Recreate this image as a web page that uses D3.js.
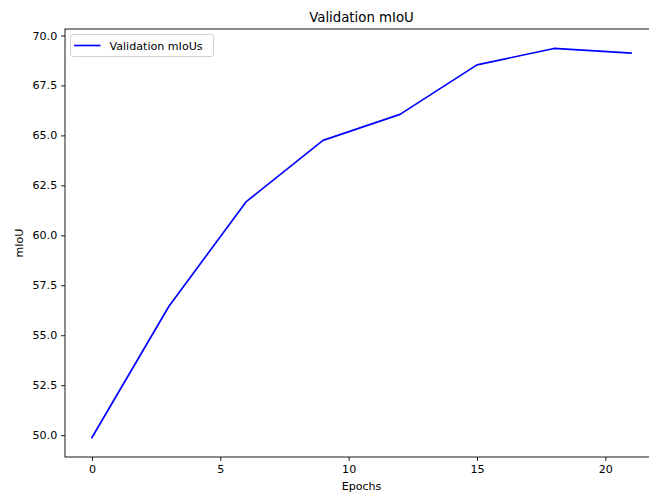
<!DOCTYPE html>
<html>
<head>
<meta charset="utf-8">
<script src="https://cdn.jsdelivr.net/npm/d3@7"></script>
<style>
  html, body { margin: 0; padding: 0; background: #ffffff; }
  svg { display: block; font-family: "DejaVu Sans", sans-serif; }
</style>
</head>
<body>
<svg id="chart" width="649" height="501"></svg>
<script>
// Validation mIoU recorded every 3 epochs
const epochs = [0, 3, 6, 9, 12, 15, 18, 21];
const mious = [49.88, 56.45, 61.67, 64.75, 66.05, 68.53, 69.35, 69.12];
const xTicks = [0, 5, 10, 15, 20];
const yTicks = [50.0, 52.5, 55.0, 57.5, 60.0, 62.5, 65.0, 67.5, 70.0];
const seriesName = "Validation mIoUs";
const titleText = "Validation mIoU";
const xLabel = "Epochs";
const yLabel = "mIoU";

const svg = d3.select("#chart");
const plot = { left: 65, right: 658, top: 29, bottom: 457 };
const fs = 11.1;

// 5% margins around the data range, as in the usual plotting defaults
const xMin = d3.min(epochs), xMax = d3.max(epochs);
const yMin = d3.min(mious), yMax = d3.max(mious);
const xPad = (xMax - xMin) * 0.05, yPad = (yMax - yMin) * 0.05;

const x = d3.scaleLinear().domain([xMin - xPad, xMax + xPad]).range([plot.left, plot.right]);
const y = d3.scaleLinear().domain([yMin - yPad, yMax + yPad]).range([plot.bottom, plot.top]);

// axes
const xAxis = svg.append("g")
  .attr("transform", `translate(0,${plot.bottom})`)
  .call(d3.axisBottom(x).tickValues(xTicks).tickFormat(d3.format("d")).tickSizeOuter(0).tickSize(3.9).tickPadding(3.9));
const yAxis = svg.append("g")
  .attr("transform", `translate(${plot.left},0)`)
  .call(d3.axisLeft(y).tickValues(yTicks).tickFormat(d3.format(".1f")).tickSizeOuter(0).tickSize(3.9).tickPadding(3.9));

[xAxis, yAxis].forEach(g => {
  g.select(".domain").remove();
  g.selectAll(".tick line").attr("stroke", "#000").attr("stroke-width", 0.9);
  g.selectAll(".tick text").attr("fill", "#000").style("font-size", fs + "px")
    .style("font-family", "DejaVu Sans");
});

// spines
const spine = svg.append("g").attr("fill", "none").attr("stroke", "#000").attr("stroke-width", 0.9);
spine.append("rect")
  .attr("x", plot.left).attr("y", plot.top)
  .attr("width", plot.right - plot.left).attr("height", plot.bottom - plot.top);

// series line
const line = d3.line().x((d, i) => x(epochs[i])).y(d => y(d));
svg.append("path")
  .datum(mious)
  .attr("fill", "none")
  .attr("stroke", "#0000ff")
  .attr("stroke-width", 1.67)
  .attr("stroke-linejoin", "round")
  .attr("stroke-linecap", "square")
  .attr("d", line);

// title and axis labels
const cx = (plot.left + plot.right) / 2;
svg.append("text").attr("x", cx).attr("y", 22).attr("text-anchor", "middle")
  .style("font-size", "13.3px").attr("fill", "#000").text(titleText);
svg.append("text").attr("x", cx).attr("y", 490).attr("text-anchor", "middle")
  .style("font-size", fs + "px").attr("fill", "#000").text(xLabel);
svg.append("text")
  .attr("transform", `translate(23,${(plot.top + plot.bottom) / 2}) rotate(-90)`)
  .attr("text-anchor", "middle")
  .style("font-size", fs + "px").attr("fill", "#000").text(yLabel);

// legend
const lg = svg.append("g").attr("transform", `translate(${plot.left + 5.5},${plot.top + 5.5})`);
lg.append("rect").attr("width", 143).attr("height", 22).attr("rx", 2.5)
  .attr("fill", "#fff").attr("fill-opacity", 0.8).attr("stroke", "#cccccc").attr("stroke-width", 0.9);
lg.append("line").attr("x1", 3.5).attr("x2", 30).attr("y1", 11).attr("y2", 11)
  .attr("stroke", "#0000ff").attr("stroke-width", 1.67);
lg.append("text").attr("x", 39).attr("y", 15).style("font-size", fs + "px").attr("fill", "#000").text(seriesName);
</script>
</body>
</html>
